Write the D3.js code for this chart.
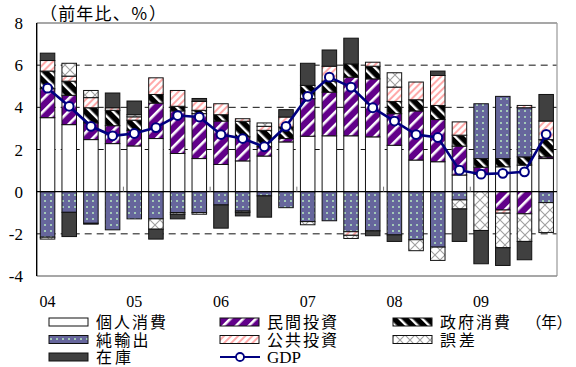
<!DOCTYPE html>
<html>
<head>
<meta charset="utf-8">
<script src="https://cdn.jsdelivr.net/npm/d3@7"></script>
<style>
  html, body { margin: 0; padding: 0; background: #fff; }
  svg { display: block; }
</style>
</head>
<body>
<svg id="chart" width="576" height="367"></svg>
<script>
// Quarterly contributions to real GDP growth (year-on-year, %), 2004Q1–2009Q4
const quarters = ["04Q1","04Q2","04Q3","04Q4","05Q1","05Q2","05Q3","05Q4",
                  "06Q1","06Q2","06Q3","06Q4","07Q1","07Q2","07Q3","07Q4",
                  "08Q1","08Q2","08Q3","08Q4","09Q1","09Q2","09Q3","09Q4"];
const yearLabels = ["04","05","06","07","08","09"];
const yTicks = [8, 6, 4, 2, 0, -2, -4];

const consumption = [3.51,3.18,2.47,2.28,2.17,2.52,1.81,1.57,1.29,1.46,1.69,2.36,2.63,2.65,2.65,2.60,2.20,1.50,1.42,0.79,0.83,1.18,1.26,1.57];
const privateInv  = [1.37,1.39,0.79,0.85,0.74,1.68,2.02,2.13,2.06,1.14,0.44,0.16,1.78,2.07,2.78,2.75,1.50,2.33,2.00,1.37,0.33,-0.87,-1.05,0.08];
const govConsump  = [0.84,0.67,0.72,0.73,0.48,0.41,0.22,0.16,0.30,0.74,0.78,0.55,0.63,0.52,0.63,0.60,0.58,0.53,0.67,0.52,0.41,0.39,0.39,0.82];
const netExports  = [-2.16,-0.98,-1.50,-1.81,-1.29,-1.29,-0.99,-0.99,-0.63,-0.92,-0.20,-0.76,-1.42,-1.38,-1.90,-1.86,-2.05,-2.28,-2.63,-0.39,2.60,2.95,2.33,-0.52];
const publicInv   = [0.50,0.24,0.48,0.12,0.16,0.79,0.75,0.42,0.52,0.12,0.19,0.47,0.00,0.71,-0.17,0.19,0.68,0.84,1.42,0.63,0.00,-0.15,0.11,0.88];
const discrepancy = [-0.09,0.61,0.34,0.00,0.10,-0.49,-0.08,-0.08,0.00,-0.06,0.16,0.00,-0.15,0.00,-0.15,0.00,0.68,-0.52,-0.63,-0.43,-1.84,-1.64,-1.31,-1.42];
const inventory   = [0.35,-1.15,-0.04,0.70,0.65,-0.47,-0.22,0.14,-1.10,-0.17,-1.01,0.35,1.05,0.77,1.22,-0.23,-0.31,0.00,0.21,-1.54,-1.58,-0.84,-0.87,1.26];
const gdp         = [4.91,4.05,3.10,2.65,2.76,3.04,3.61,3.54,2.71,2.52,2.13,3.10,4.52,5.43,4.96,3.98,3.35,2.71,2.57,1.02,0.83,0.87,0.94,2.72];

// stacking order (bottom-up for positives, top-down for negatives)
const series = [
  { key: "cons", name: "個人消費", values: consumption, fill: "#ffffff" },
  { key: "priv", name: "民間投資", values: privateInv,  fill: "url(#pPriv)" },
  { key: "gov",  name: "政府消費", values: govConsump,  fill: "url(#pGov)" },
  { key: "net",  name: "純輸出",   values: netExports,  fill: "url(#pNet)" },
  { key: "pub",  name: "公共投資", values: publicInv,   fill: "url(#pPub)" },
  { key: "err",  name: "誤差",     values: discrepancy, fill: "url(#pErr)" },
  { key: "inv",  name: "在庫",     values: inventory,   fill: "#404040" }
];

const rows = quarters.map((q, i) => {
  const r = { q };
  series.forEach(s => { r[s.key] = s.values[i]; });
  return r;
});

const svg = d3.select("#chart");
const serifFont = "'Liberation Serif', 'Times New Roman', serif";
const cjkFont = "'Noto Sans CJK JP', 'Noto Sans CJK SC', sans-serif";

// ---- patterns ----
const defs = svg.append("defs");

function stripes(id, bg, fg, size, w, angle) {
  const p = defs.append("pattern").attr("id", id)
    .attr("patternUnits", "userSpaceOnUse")
    .attr("width", size).attr("height", size)
    .attr("patternTransform", `rotate(${angle})`);
  p.append("rect").attr("width", size).attr("height", size).attr("fill", bg);
  p.append("rect").attr("x", 0).attr("width", w).attr("height", size).attr("fill", fg);
}
stripes("pPriv", "#62008a", "#ffffff", 9, 2.6, 45);
stripes("pGov", "#000000", "#ffffff", 8, 2.4, -45);
stripes("pPub", "#ffffff", "#ffaaaa", 5, 2, 45);

const pn = defs.append("pattern").attr("id", "pNet")
  .attr("patternUnits", "userSpaceOnUse").attr("width", 6).attr("height", 6);
pn.append("rect").attr("width", 6).attr("height", 6).attr("fill", "#66669c");
pn.append("circle").attr("cx", 3).attr("cy", 3).attr("r", 1).attr("fill", "#b8ecc0");

const pe = defs.append("pattern").attr("id", "pErr")
  .attr("patternUnits", "userSpaceOnUse").attr("width", 10).attr("height", 10);
pe.append("rect").attr("width", 10).attr("height", 10).attr("fill", "#ffffff");
pe.append("path").attr("d", "M0,0L10,10M10,0L0,10")
  .attr("stroke", "#a0a0a0").attr("stroke-width", 1.1).attr("fill", "none");

// ---- scales ----
const plot = { left: 36.7, right: 557, top: 23, bottom: 276 };
const x = d3.scaleBand().domain(quarters)
  .range([plot.left, plot.right]).paddingInner(0.33).paddingOuter(0.165);
const y = d3.scaleLinear().domain([-4, 8]).range([plot.bottom, plot.top]);
const xc = q => x(q) + x.bandwidth() / 2;
const step = x.step();

// ---- grid & frame ----
const g = svg.append("g");
g.selectAll("line.grid").data(yTicks.filter(v => v !== 0 && v !== 8 && v !== -4))
  .join("line").attr("class", "grid")
  .attr("x1", plot.left).attr("x2", plot.right)
  .attr("y1", d => y(d)).attr("y2", d => y(d))
  .attr("stroke", "#111").attr("stroke-width", 1).attr("stroke-dasharray", "7,5");

g.append("line").attr("x1", plot.left).attr("x2", plot.right)
  .attr("y1", y(8)).attr("y2", y(8)).attr("stroke", "#8a8a8a").attr("stroke-width", 1.3);
g.append("line").attr("x1", plot.right).attr("x2", plot.right)
  .attr("y1", y(8)).attr("y2", y(-4)).attr("stroke", "#a0a0a0").attr("stroke-width", 1.3);
g.append("line").attr("x1", plot.left).attr("x2", plot.right)
  .attr("y1", y(-4)).attr("y2", y(-4)).attr("stroke", "#8a8a8a").attr("stroke-width", 1.3);

// ---- stacked bars ----
const stack = d3.stack().keys(series.map(s => s.key)).offset(d3.stackOffsetDiverging);
const stacked = stack(rows);

const barsG = svg.append("g");
stacked.forEach((layer, li) => {
  barsG.append("g").selectAll("rect")
    .data(layer.filter(d => Math.abs(d[1] - d[0]) > 0.001))
    .join("rect")
    .attr("x", d => x(d.data.q))
    .attr("width", x.bandwidth())
    .attr("y", d => y(Math.max(d[0], d[1])))
    .attr("height", d => Math.abs(y(d[0]) - y(d[1])))
    .attr("fill", series[li].fill)
    .attr("stroke", "#111").attr("stroke-width", 1);
});

// zero line with year-boundary ticks
svg.append("line").attr("x1", plot.left).attr("x2", plot.right)
  .attr("y1", y(0)).attr("y2", y(0)).attr("stroke", "#000").attr("stroke-width", 1.2);
svg.append("g").selectAll("line")
  .data(quarters.filter((q, i) => i % 4 === 0 && i > 0))
  .join("line")
  .attr("x1", d => x(d) - x.paddingInner() * step / 2)
  .attr("x2", d => x(d) - x.paddingInner() * step / 2)
  .attr("y1", y(0)).attr("y2", y(0) - 5)
  .attr("stroke", "#777").attr("stroke-width", 1);

// left axis
svg.append("line").attr("x1", plot.left).attr("x2", plot.left)
  .attr("y1", y(8)).attr("y2", y(-4)).attr("stroke", "#000").attr("stroke-width", 1.4);

svg.append("g").selectAll("text").data(yTicks).join("text")
  .attr("x", 23).attr("y", d => y(d) + 6)
  .attr("text-anchor", "end")
  .attr("font-family", serifFont).attr("font-size", 17)
  .text(d => d);

// ---- GDP line ----
const line = d3.line().x((d, i) => xc(quarters[i])).y(d => y(d));
svg.append("path").datum(gdp).attr("d", line)
  .attr("fill", "none").attr("stroke", "#000080").attr("stroke-width", 2.6);
svg.append("g").selectAll("circle").data(gdp).join("circle")
  .attr("cx", (d, i) => xc(quarters[i])).attr("cy", d => y(d)).attr("r", 4.4)
  .attr("fill", "#fff").attr("stroke", "#000080").attr("stroke-width", 2);

// ---- titles & x labels ----
svg.append("text").attr("x", 40).attr("y", 20)
  .attr("font-family", cjkFont).attr("font-size", 17)
  .attr("textLength", 126).attr("lengthAdjust", "spacing")
  .text("（前年比、％）");

svg.append("g").selectAll("text").data(yearLabels).join("text")
  .attr("x", (d, i) => xc(quarters[i * 4]))
  .attr("y", 307).attr("text-anchor", "middle")
  .attr("font-family", serifFont).attr("font-size", 16)
  .text(d => d);

// ---- legend ----
const legendItems = [
  { s: series[0], col: 0, row: 0 },
  { s: series[1], col: 1, row: 0 },
  { s: series[2], col: 2, row: 0 },
  { s: series[3], col: 0, row: 1 },
  { s: series[4], col: 1, row: 1 },
  { s: series[5], col: 2, row: 1 },
  { s: series[6], col: 0, row: 2 }
];
const colX = [49, 220, 393];
const rowY = [322, 339.5, 357];
const legendSize = 16;
const lg = svg.append("g");
legendItems.forEach(it => {
  lg.append("rect").attr("x", colX[it.col]).attr("y", rowY[it.row] - 4)
    .attr("width", 39).attr("height", 8)
    .attr("fill", it.s.fill).attr("stroke", "#111").attr("stroke-width", 1);
  lg.append("text").attr("x", colX[it.col] + 47).attr("y", rowY[it.row] + 6)
    .attr("font-family", cjkFont).attr("font-size", legendSize)
    .attr("textLength", it.s.name.length * 17.5).attr("lengthAdjust", "spacing")
    .text(it.s.name);
});
// GDP entry
lg.append("line").attr("x1", colX[1]).attr("x2", colX[1] + 40)
  .attr("y1", rowY[2]).attr("y2", rowY[2])
  .attr("stroke", "#000080").attr("stroke-width", 2.2);
lg.append("circle").attr("cx", colX[1] + 20).attr("cy", rowY[2]).attr("r", 4)
  .attr("fill", "#fff").attr("stroke", "#000080").attr("stroke-width", 1.8);
lg.append("text").attr("x", colX[1] + 47).attr("y", rowY[2] + 6)
  .attr("font-family", serifFont).attr("font-size", 17).text("GDP");

svg.append("text").attr("x", 526).attr("y", rowY[0] + 6)
  .attr("font-family", cjkFont).attr("font-size", 15.5)
  .attr("textLength", 46).attr("lengthAdjust", "spacing")
  .text("（年）");
</script>
</body>
</html>
